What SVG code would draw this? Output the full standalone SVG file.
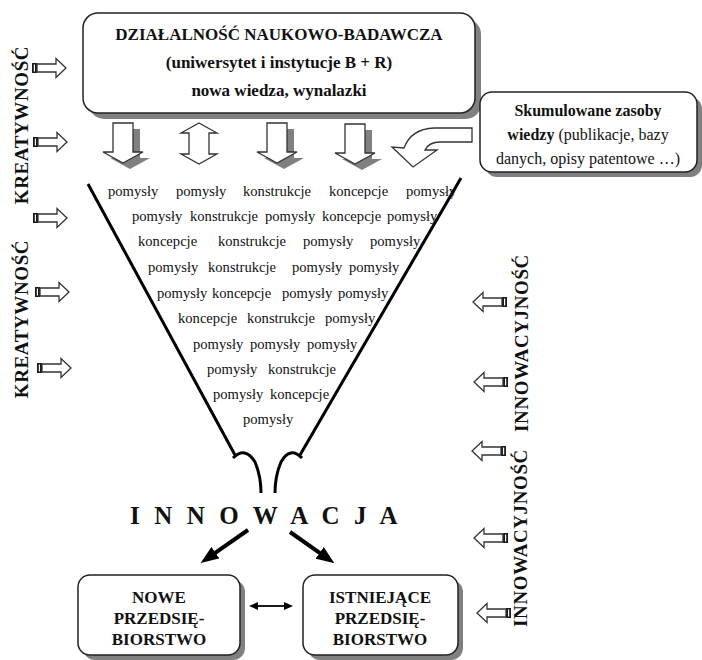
<svg xmlns="http://www.w3.org/2000/svg" xmlns:xlink="http://www.w3.org/1999/xlink" width="702" height="660" viewBox="0 0 702 660">
<style>
.box{fill:#fff;stroke:#222;stroke-width:1.5}
.shadow{fill:#808080}
.b{font-family:"Liberation Serif","Times New Roman",serif;font-weight:bold;fill:#111}
.r{font-family:"Liberation Serif","Times New Roman",serif;fill:#111}
.w{font-family:"Liberation Serif","Times New Roman",serif;font-size:14.6px;fill:#111}
.hollow{fill:#fff;stroke:#333;stroke-width:1.3;stroke-linejoin:miter}
.funnel{fill:none;stroke:#000;stroke-width:3}
.thick{fill:none;stroke:#000;stroke-width:4}
.thin{fill:none;stroke:#000;stroke-width:1.8}
.vt{font-family:"Liberation Serif","Times New Roman",serif;font-weight:bold;font-size:19px;fill:#111;letter-spacing:0.6px}
</style>
<defs>
<g id="ra">
<rect x="0" y="-5" width="5" height="10" fill="#1a1a1a"/>
<rect x="1.8" y="-3.5" width="1.2" height="7" fill="#fff"/>
<path class="hollow" d="M5,-4 H24 V-9.5 L34,0 L24,9.5 V4 H5 Z"/>
</g>
<path id="da" d="M-10,0 H10 V29 H20 L0,40 L-20,29 H-10 Z"/>
<marker id="mh" markerUnits="userSpaceOnUse" markerWidth="18" markerHeight="14" viewBox="0 0 18 14" refX="6" refY="7" orient="auto">
<path d="M0,0 L18,7 L0,14 Z" fill="#000"/>
</marker>
<marker id="ms" markerUnits="userSpaceOnUse" markerWidth="9" markerHeight="8" viewBox="0 0 9 8" refX="2" refY="4" orient="auto-start-reverse">
<path d="M0,0 L9,4 L0,8 Z" fill="#000"/>
</marker>
</defs>
<rect width="702" height="660" fill="#fff"/>

<g id="n-research">
<rect class="shadow" x="89" y="19" width="392" height="100" rx="15"/>
<rect class="box" x="83" y="13" width="392" height="100" rx="15"/>
<text class="b" font-size="17" x="279" y="40" text-anchor="middle">DZIAŁALNOŚĆ NAUKOWO-BADAWCZA</text>
<text class="b" font-size="17" x="279" y="68" text-anchor="middle">(uniwersytet i instytucje B + R)</text>
<text class="b" font-size="17" x="279" y="96" text-anchor="middle">nowa wiedza, wynalazki</text>
</g>

<g id="n-resources">
<rect class="shadow" x="485" y="97" width="217" height="80" rx="12"/>
<rect class="box" x="480" y="92" width="217" height="80" rx="12"/>
<text class="b" font-size="16" x="588" y="116" text-anchor="middle">Skumulowane zasoby</text>
<text class="r" font-size="16" x="588" y="140" text-anchor="middle"><tspan font-weight="bold">wiedzy</tspan> (publikacje, bazy</text>
<text class="r" font-size="16" x="588" y="164" text-anchor="middle">danych, opisy patentowe …)</text>
</g>

<g id="n-funnel">
<path class="funnel" d="M88,184 L235,455 M233,458 Q245,446 255,462 Q261,476 261,493"/>
<path class="funnel" d="M461,178 L300,455 M302,458 Q290,446 281,462 Q275,476 275,493"/>
<g class="w">
<text x="108" y="196">pomysły</text><text x="176" y="196">pomysły</text><text x="243" y="196">konstrukcje</text><text x="329" y="196">koncepcje</text><text x="406" y="196">pomysły</text>
<text x="132" y="221">pomysły</text><text x="190" y="221">konstrukcje</text><text x="265" y="221">pomysły</text><text x="322" y="221">koncepcje</text><text x="387" y="221">pomysły</text>
<text x="138" y="246">koncepcje</text><text x="218" y="246">konstrukcje</text><text x="303" y="246">pomysły</text><text x="370" y="246">pomysły</text>
<text x="148" y="272">pomysły</text><text x="208" y="272">konstrukcje</text><text x="292" y="272">pomysły</text><text x="349" y="272">pomysły</text>
<text x="157" y="298">pomysły</text><text x="212" y="298">koncepcje</text><text x="282" y="298">pomysły</text><text x="338" y="298">pomysły</text>
<text x="178" y="323">koncepcje</text><text x="247" y="323">konstrukcje</text><text x="325" y="323">pomysły</text>
<text x="193" y="349">pomysły</text><text x="250" y="349">pomysły</text><text x="307" y="349">pomysły</text>
<text x="207" y="374">pomysły</text><text x="268" y="374">konstrukcje</text>
<text x="213" y="399">pomysły</text><text x="270" y="399">koncepcje</text>
<text x="243" y="424">pomysły</text>
</g>
</g>

<g id="n-innowacja">
<text class="b" font-size="25" x="130" y="524" letter-spacing="4.1">I N N O W A C J A</text>
</g>

<g id="n-new">
<rect class="shadow" x="83" y="580" width="162" height="80" rx="12"/>
<rect class="box" x="78" y="575" width="162" height="80" rx="12"/>
<text class="b" font-size="17" x="159" y="603" text-anchor="middle">NOWE</text>
<text class="b" font-size="17" x="159" y="624" text-anchor="middle">PRZEDSIĘ-</text>
<text class="b" font-size="17" x="159" y="645" text-anchor="middle">BIORSTWO</text>
</g>

<g id="n-existing">
<rect class="shadow" x="308" y="580" width="155" height="80" rx="12"/>
<rect class="box" x="303" y="575" width="155" height="80" rx="12"/>
<text class="b" font-size="17" x="380" y="603" text-anchor="middle">ISTNIEJĄCE</text>
<text class="b" font-size="17" x="380" y="624" text-anchor="middle">PRZEDSIĘ-</text>
<text class="b" font-size="17" x="380" y="645" text-anchor="middle">BIORSTWO</text>
</g>

<g id="labels">
<text class="vt" transform="translate(28,125) rotate(-90)" text-anchor="middle">KREATYWNOŚĆ</text>
<text class="vt" transform="translate(28,319) rotate(-90)" text-anchor="middle">KREATYWNOŚĆ</text>
<text class="vt" transform="translate(528,343) rotate(-90)" text-anchor="middle">INNOWACYJNOŚĆ</text>
<text class="vt" transform="translate(527,538) rotate(-90)" text-anchor="middle">INNOWACYJNOŚĆ</text>
</g>

<g id="connectors">
<use href="#da" class="shadow" transform="translate(130,129)"/>
<use href="#da" class="hollow" transform="translate(123,123)"/>
<path class="hollow" d="M199,123 L217,133 H209 V154 H217 L199,164 L181,154 H189 V133 H181 Z"/>
<use href="#da" class="shadow" transform="translate(284,129)"/>
<use href="#da" class="hollow" transform="translate(277,123)"/>
<use href="#da" class="shadow" transform="translate(362,130)"/>
<use href="#da" class="hollow" transform="translate(355,124)"/>
<path class="hollow" d="M472,128 L434,128 Q411,129 404,148 L392,147 L413,167 L437,150 L425,150 Q429,142 440,142 L472,142 Z"/>
<use href="#ra" transform="translate(32,68)"/>
<use href="#ra" transform="translate(33,142)"/>
<use href="#ra" transform="translate(33,218)"/>
<use href="#ra" transform="translate(35,292)"/>
<use href="#ra" transform="translate(37,368)"/>
<use href="#ra" transform="translate(507,302) scale(-1,1)"/>
<use href="#ra" transform="translate(508,382) scale(-1,1)"/>
<use href="#ra" transform="translate(506,451) scale(-1,1)"/>
<use href="#ra" transform="translate(508,538) scale(-1,1)"/>
<use href="#ra" transform="translate(511,613) scale(-1,1)"/>
<path class="thick" d="M248,530 L210.5,556.1" marker-end="url(#mh)"/>
<path class="thick" d="M290,532 L324.6,556.3" marker-end="url(#mh)"/>
<path class="thin" d="M256,606 L286,606" marker-start="url(#ms)" marker-end="url(#ms)"/>
</g>
</svg>
